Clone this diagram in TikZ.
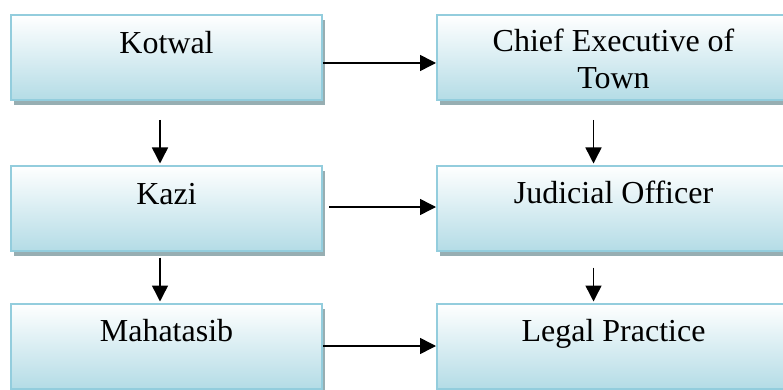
\documentclass[tikz,border=0pt]{standalone}
\usepackage{fontspec}
\setmainfont{Liberation Serif}
\usetikzlibrary{arrows.meta,shadows}
\definecolor{boxline}{HTML}{93CDDD}
\definecolor{boxfill}{HTML}{B4DCE6}
\definecolor{shadowc}{HTML}{97AEB2}
\begin{document}
\begin{tikzpicture}[x=1pt,y=-1pt,
  box/.style={rectangle, draw=boxline, line width=2pt, top color=white, bottom color=boxfill,
    inner sep=0pt,
    drop shadow={shadow xshift=3pt, shadow yshift=-5pt, fill=shadowc, opacity=1}},
  lbox/.style={box, minimum width=311pt, minimum height=85pt},
  rbox/.style={box, minimum width=353pt, minimum height=85pt},
  lbl/.style={font=\fontsize{32}{37}\selectfont, inner sep=0pt, anchor=base, align=center},
  arr/.style={line width=1.5pt, -{Triangle[length=16pt,width=16pt]}}]
\useasboundingbox (0,0) rectangle (783,390);
% boxes
\node[lbox] (kotwal) at (166.5,57.5) {};
\node[rbox] (chief) at (613.5,57.5) {};
\node[lbox] (kazi) at (166.5,208) {};
\node[rbox] (judicial) at (613.5,208) {};
\node[lbox] (mahatasib) at (166.5,346) {};
\node[rbox] (legal) at (613.5,346) {};
% labels
\node[lbl] (tkotwal) at ([yshift=-40pt]kotwal.north) {Kotwal};
\node[lbl] (tchief) at ([yshift=-75pt]chief.north) {Chief Executive of\\Town};
\node[lbl] (tkazi) at ([yshift=-40pt]kazi.north) {Kazi};
\node[lbl] (tjudicial) at ([yshift=-39pt]judicial.north) {Judicial Officer};
\node[lbl] (tmahatasib) at ([yshift=-39pt]mahatasib.north) {Mahatasib};
\node[lbl] (tlegal) at ([yshift=-39pt]legal.north) {Legal Practice};
% horizontal connectors
\draw[arr] ([yshift=-5.5pt]kotwal.east) -- ([yshift=-5.5pt]kotwal.east -| chief.west);
\draw[arr] ([xshift=6pt,yshift=1pt]kazi.east) -- ([yshift=1pt]kazi.east -| judicial.west);
\draw[arr] (mahatasib.east) -- (legal.west);
% vertical connectors
\draw[arr] ([xshift=-6.5pt,yshift=-19pt]kotwal.south) -- ([xshift=-6.5pt,yshift=1pt]kazi.north);
\draw[arr] ([xshift=-20pt,yshift=-19pt]chief.south) -- ([xshift=-20pt,yshift=1pt]judicial.north);
\draw[arr] ([xshift=-6.5pt,yshift=-6pt]kazi.south) -- ([xshift=-6.5pt,yshift=1pt]mahatasib.north);
\draw[arr] ([xshift=-20pt,yshift=-16pt]judicial.south) -- ([xshift=-20pt,yshift=1pt]legal.north);
\end{tikzpicture}
\end{document}
